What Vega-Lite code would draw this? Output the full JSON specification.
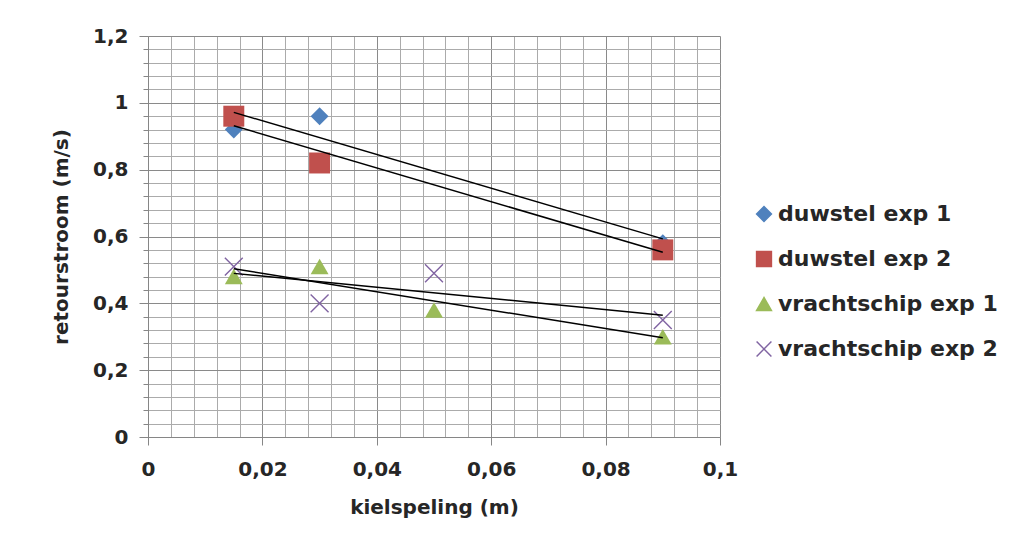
{
  "$schema": "https://vega.github.io/schema/vega-lite/v6.json",
  "width": 572,
  "height": 401,
  "autosize": {"type": "none"},
  "padding": {"left": 148, "top": 36, "right": 303, "bottom": 113},
  "background": "white",
  "config": {
    "view": {"stroke": null},
    "font": "DejaVu Sans",
    "axis": {
      "labelFont": "DejaVu Sans",
      "labelFontWeight": "bold",
      "labelFontSize": 20,
      "labelColor": "#262626",
      "titleFont": "DejaVu Sans",
      "titleFontWeight": "bold",
      "titleFontSize": 20,
      "titleColor": "#262626",
      "domainColor": "#868686",
      "tickColor": "#868686",
      "tickCount": 200,
      "labelOverlap": false,
      "labelFlush": false,
      "labelBound": false
    },
    "legend": {
      "labelFont": "DejaVu Sans",
      "labelFontWeight": "bold",
      "labelFontSize": 22,
      "labelColor": "#262626",
      "labelLimit": 0
    }
  },
  "data": {
    "values": [
      {"x": 0.015, "y": 0.92, "series": "duwstel exp 1"},
      {"x": 0.03, "y": 0.96, "series": "duwstel exp 1"},
      {"x": 0.09, "y": 0.58, "series": "duwstel exp 1"},
      {"x": 0.015, "y": 0.96, "series": "duwstel exp 2"},
      {"x": 0.03, "y": 0.82, "series": "duwstel exp 2"},
      {"x": 0.09, "y": 0.56, "series": "duwstel exp 2"},
      {"x": 0.015, "y": 0.48, "series": "vrachtschip exp 1"},
      {"x": 0.03, "y": 0.51, "series": "vrachtschip exp 1"},
      {"x": 0.05, "y": 0.38, "series": "vrachtschip exp 1"},
      {"x": 0.09, "y": 0.30, "series": "vrachtschip exp 1"},
      {"x": 0.015, "y": 0.51, "series": "vrachtschip exp 2"},
      {"x": 0.03, "y": 0.40, "series": "vrachtschip exp 2"},
      {"x": 0.05, "y": 0.49, "series": "vrachtschip exp 2"},
      {"x": 0.09, "y": 0.35, "series": "vrachtschip exp 2"}
    ]
  },
  "layer": [
    {
      "mark": {"type": "point", "filled": true, "opacity": 1},
      "encoding": {
        "x": {
          "field": "x",
          "type": "quantitative",
          "scale": {"domain": [0, 0.1], "nice": false},
          "axis": {
            "title": "kielspeling (m)",
            "values": [0, 0.004, 0.008, 0.012, 0.016, 0.02, 0.024, 0.028, 0.032, 0.036, 0.04, 0.044, 0.048, 0.052, 0.056, 0.06, 0.064, 0.068, 0.072, 0.076, 0.08, 0.084, 0.088, 0.092, 0.096, 0.1],
            "labelExpr": "abs(datum.value*50 - round(datum.value*50)) < 0.001 ? replace(format(datum.value, '.2~f'), '.', ',') : ''",
            "grid": true,
            "gridColor": {"condition": {"test": "abs(datum.value*50 - round(datum.value*50)) < 0.001", "value": "#8a8a8a"}, "value": "#ababab"},
            "tickSize": 8,
            "tickOpacity": {"condition": {"test": "abs(datum.value*50 - round(datum.value*50)) < 0.001", "value": 1}, "value": 0},
            "labelPadding": 14,
            "titlePadding": 18
          }
        },
        "y": {
          "field": "y",
          "type": "quantitative",
          "scale": {"domain": [0, 1.2], "nice": false},
          "axis": {
            "title": "retourstroom (m/s)",
            "values": [0, 0.04, 0.08, 0.12, 0.16, 0.2, 0.24, 0.28, 0.32, 0.36, 0.4, 0.44, 0.48, 0.52, 0.56, 0.6, 0.64, 0.68, 0.72, 0.76, 0.8, 0.84, 0.88, 0.92, 0.96, 1, 1.04, 1.08, 1.12, 1.16, 1.2],
            "labelExpr": "abs(datum.value*5 - round(datum.value*5)) < 0.001 ? replace(format(datum.value, '.1~f'), '.', ',') : ''",
            "grid": true,
            "gridColor": {"condition": {"test": "abs(datum.value*5 - round(datum.value*5)) < 0.001", "value": "#8a8a8a"}, "value": "#ababab"},
            "tickSize": {"condition": {"test": "abs(datum.value*5 - round(datum.value*5)) < 0.001", "value": 9}, "value": 5},
            "labelPadding": 11,
            "titlePadding": 21
          }
        },
        "shape": {
          "field": "series",
          "type": "nominal",
          "scale": {
            "domain": ["duwstel exp 1", "duwstel exp 2", "vrachtschip exp 1", "vrachtschip exp 2"],
            "range": ["diamond", "square", "triangle-up", "M-1,-1L1,1M-1,1L1,-1"]
          },
          "legend": {
            "title": null,
            "orient": "none",
            "legendX": 605,
            "legendY": 167,
            "symbolSize": 220,
            "rowPadding": 23,
            "labelOffset": 3
          }
        },
        "fill": {
          "field": "series",
          "type": "nominal",
          "scale": {
            "domain": ["duwstel exp 1", "duwstel exp 2", "vrachtschip exp 1", "vrachtschip exp 2"],
            "range": ["#4F81BD", "#C0504D", "#9BBB59", "transparent"]
          },
          "legend": {
            "title": null,
            "orient": "none",
            "legendX": 605,
            "legendY": 167,
            "symbolSize": 220,
            "rowPadding": 23,
            "labelOffset": 3
          }
        },
        "stroke": {
          "field": "series",
          "type": "nominal",
          "scale": {
            "domain": ["duwstel exp 1", "duwstel exp 2", "vrachtschip exp 1", "vrachtschip exp 2"],
            "range": ["#4F81BD", "#C0504D", "#9BBB59", "#8064A2"]
          },
          "legend": {
            "title": null,
            "orient": "none",
            "legendX": 605,
            "legendY": 167,
            "symbolSize": 220,
            "rowPadding": 23,
            "labelOffset": 3
          }
        },
        "strokeWidth": {"condition": {"test": "datum.series === 'vrachtschip exp 2'", "value": 1.4}, "value": 0},
        "size": {"condition": {"test": "datum.series === 'duwstel exp 2'", "value": 440}, "value": 320}
      }
    },
    {
      "transform": [
        {"regression": "y", "on": "x", "groupby": ["series"], "extent": [0.015, 0.09]}
      ],
      "mark": {"type": "line", "color": "#000000", "strokeWidth": 1.5},
      "encoding": {
        "x": {"field": "x", "type": "quantitative"},
        "y": {"field": "y", "type": "quantitative"},
        "detail": {"field": "series"}
      }
    }
  ]
}
